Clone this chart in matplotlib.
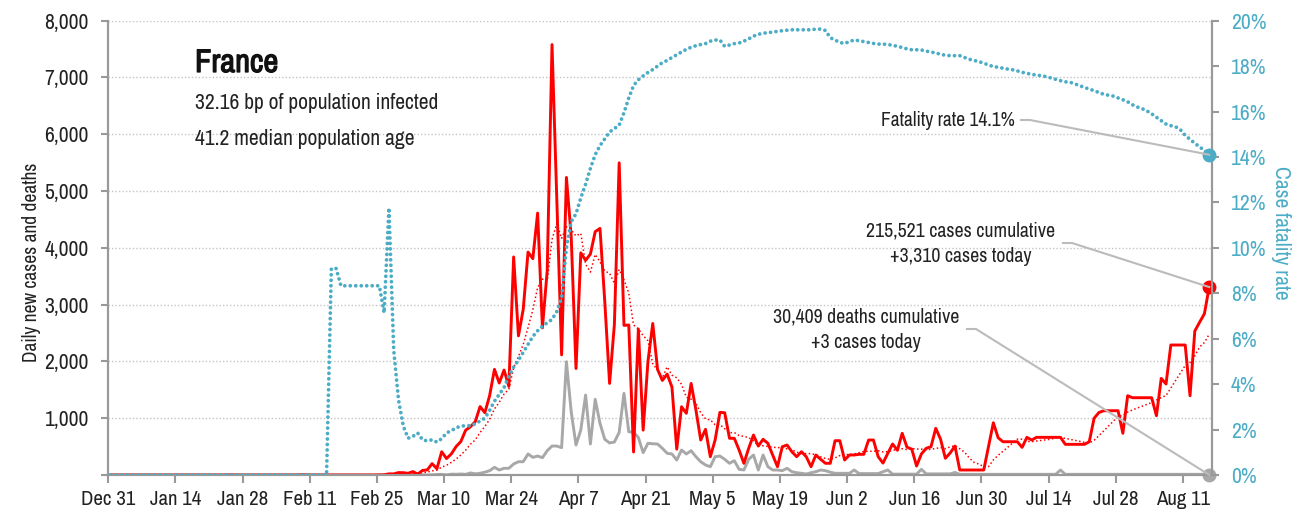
import matplotlib
matplotlib.use('Agg')
import matplotlib.pyplot as plt
import matplotlib.dates as mdates
import matplotlib.patheffects as pe
from matplotlib import font_manager
from matplotlib.lines import Line2D
import numpy as np
import pandas as pd

# pick a narrow sans if one is installed
names = {f.name: f for f in font_manager.fontManager.ttflist}
narrow = [n for n in names if 'Narrow' in n or 'Condensed' in n]
stretch = 'normal'
if narrow:
    family = sorted(narrow)[0]
else:
    family = 'DejaVu Sans'
    f = font_manager.findfont(font_manager.FontProperties(family='DejaVu Sans', stretch='condensed'))
    if 'Condensed' in f:
        stretch = 'condensed'
plt.rcParams['font.family'] = [family, 'DejaVu Sans']
plt.rcParams['font.stretch'] = stretch

# daily values from 2019-12-31 (day 0) to 2020-08-16 (day 229)
start = '2019-12-31'
n_days = 230

cases = [0] * 25 + [3, 0, 0, 0, 1, 1, 0, 1, 0, 0, 0, 0, 0, 0, 0, 5, 0, 0, 0, 0, 0, 1,
         0, 0, 0, 0, 0, 0, 0, 0, 0,
         2, 4, 20, 19, 43, 40, 30, 60, 15, 80, 90, 200, 110, 410, 290, 370, 500, 590, 790, 850, 940,   # 56-76
         1205, 1097, 1400, 1860, 1620, 1848, 1560, 3840, 2450, 2920, 3925, 3810, 4612, 2590, 3600,    # 77-91
         7580, 4860, 2115, 5240, 4200, 1875, 3912, 3780, 3890, 4285, 4342, 3050, 1613, 2650, 5497,    # 92-106
         2635, 2641, 405, 2570, 790, 2000, 2668, 1860, 1665, 1777, 1550, 455, 1202, 1086, 1613,       # 107-121
         1144, 616, 804, 322, 616, 1103, 1096, 646, 646, 440, 206, 470, 704, 510, 628,                 # 122-136
         558, 352, 146, 498, 528, 410, 322, 410, 322, 146, 352, 276, 206, 206, 604,                    # 137-151
         604, 264, 352, 352, 364, 364, 616, 616, 322, 210, 382, 546, 435, 734, 490,                    # 152-166
         455, 158, 370, 470, 498, 822, 630, 294, 388, 510, 88, 88, 88, 88, 88,                         # 167-181
         88, 500, 920, 656, 586, 586, 586, 586, 487, 663, 616, 663, 663, 663, 663,                     # 182-196
         663, 663, 540, 540, 540, 540, 540, 586, 998, 1100, 1132, 1132, 1132, 1132, 734,               # 197-211
         1396, 1361, 1361, 1361, 1361, 1361, 1044, 1702, 1602, 2289, 2289, 2289, 2289, 1396, 2535,     # 212-226
         2690, 2840, 3310]                                                                              # 227-229

deaths = [0] * 46 + [1] + [0] * 9 + [1, 0, 0, 0, 0, 0, 1, 1, 0, 2, 0, 3, 9, 11, 3, 15, 13, 18, 12, 36, 21,  # 46-76
          30, 50, 76, 135, 88, 118, 118, 194, 234, 234, 370, 311, 334, 305, 428,                       # 77-91
          510, 510, 481, 1995, 1114, 528, 792, 1408, 546, 1333, 910, 628, 565, 580, 750,               # 92-106
          1438, 762, 755, 660, 393, 558, 550, 546, 470, 382, 370, 264, 440, 370, 428,                   # 107-121
          322, 234, 176, 146, 322, 334, 276, 206, 252, 100, 88, 276, 352, 88, 352,                      # 122-136
          146, 88, 88, 76, 118, 58, 40, 30, 18, 40, 58, 88, 76, 50, 30,                                 # 137-151
          30, 30, 30, 88, 25, 25, 25, 25, 25, 58, 88, 15, 15, 15, 15,                                   # 152-166
          15, 15, 100, 20, 20, 20, 20, 20, 20, 45] + [12] * 21 + [88] + [12] * 30 + [3]                 # 167-229

cfr = [0] * 46 + [9.09, 9.09] + [8.33] * 9 + [7.14, 11.76, 5.5, 3.3, 2.15, 1.62,                       # 46-62
       1.7, 1.85, 1.55, 1.5, 1.55, 1.45, 1.6, 1.85, 1.95, 2.08, 2.15, 2.17, 2.17, 2.25, 2.38,            # 63-77
       2.5, 2.85, 3.25, 3.55, 3.85, 4.35, 4.75, 5.05, 5.4, 5.75, 6.1, 6.35, 6.55, 6.7, 6.85,             # 78-92
       7.2, 7.8, 10.0, 11.15, 11.5, 12.2, 12.8, 13.5, 14.1, 14.5, 14.8, 15.1, 15.25, 15.4, 15.95,       # 93-107
       16.6, 17.15, 17.4, 17.57, 17.72, 17.85, 18.0, 18.15, 18.25, 18.38, 18.5, 18.62, 18.74, 18.83, 18.9,  # 108-122
       18.95, 18.99, 19.1, 19.15, 19.15, 18.87, 18.93, 18.99, 19.02, 19.1, 19.2, 19.32, 19.4, 19.45, 19.47,  # 123-137
       19.5, 19.53, 19.56, 19.58, 19.6, 19.6, 19.6, 19.6, 19.6, 19.63, 19.63, 19.57, 19.25, 19.15, 19.04,   # 138-152
       19.0, 19.08, 19.15, 19.12, 19.08, 19.04, 19.0, 18.97, 18.97, 18.95, 18.92, 18.87, 18.82, 18.76, 18.72,  # 153-167
       18.72, 18.71, 18.66, 18.62, 18.58, 18.52, 18.48, 18.46, 18.46, 18.46, 18.38, 18.3, 18.25, 18.2, 18.13,  # 168-182
       18.05, 17.98, 17.95, 17.91, 17.87, 17.84, 17.79, 17.73, 17.68, 17.64, 17.6, 17.58, 17.54, 17.48, 17.42,  # 183-197
       17.36, 17.31, 17.29, 17.22, 17.14, 17.06, 16.99, 16.92, 16.84, 16.76, 16.72, 16.68, 16.6, 16.52, 16.43,  # 198-212
       16.3, 16.2, 16.13, 16.03, 15.9, 15.75, 15.6, 15.45, 15.38, 15.33, 15.2, 14.95, 14.78, 14.6, 14.45,  # 213-227
       14.28, 14.1]                                                                                      # 228-229

country = 'France'
infected_bp = 32.16
median_age = 41.2
total_cases = 215521
total_deaths = 30409

dates = pd.date_range(start, periods=n_days) + pd.Timedelta(hours=12)
df = pd.DataFrame({'cases': cases, 'deaths': deaths, 'cfr': cfr}, index=dates)
df['avg'] = df['cases'].rolling(7, min_periods=1).mean()

W, H = 1307, 518
fig = plt.figure(figsize=(W / 100, H / 100), dpi=100)
ax = fig.add_axes([108.3 / W, 43 / H, (1211.6 - 108.3) / W, (475 - 20.7) / H])

red = '#ff0000'
grey = '#a8a8a8'
blue = '#4bacc6'
axis_grey = '#999999'
ink = '#222222'

ax.plot(df.index, df['deaths'], color=grey, lw=2.1, zorder=2)
ax.plot(df.index, df['avg'], color=red, lw=1.1, ls=(0, (1, 1.6)), zorder=3)
ax.plot(df.index, df['cases'], color=red, lw=2.1, zorder=4)
ax.plot(df.index[-1], df['cases'].iloc[-1], 'o', color=red, ms=9, zorder=6, clip_on=False)
ax.plot(df.index[-1], df['deaths'].iloc[-1], 'o', color=grey, ms=9, zorder=6, clip_on=False)

ax.set_xlim(pd.Timestamp(start), pd.Timestamp(start) + pd.Timedelta(days=n_days))
ax.set_ylim(0, 8000)
ax.set_yticks(range(0, 8001, 1000))
ax.set_yticklabels([''] + [f'{v:,}' for v in range(1000, 8001, 1000)])
xt = pd.date_range(start, '2020-08-11', freq='14D')
ax.set_xticks(xt)
ax.set_xticklabels([f'{d:%b} {d.day}' for d in xt])
ax.yaxis.grid(True, color='#c4c4c4', ls=(0, (1, 1.5)), lw=1)
ax.set_axisbelow(True)

ax2 = ax.twinx()
ax2.plot(df.index, df['cfr'], color=blue, lw=2.7, ls=(0, (0.01, 1.45)),
         dash_capstyle='round', zorder=5)
ax2.plot(df.index[-1], df['cfr'].iloc[-1], 'o', color=blue, ms=9, zorder=6, clip_on=False)
ax2.set_ylim(0, 20)
ax2.set_yticks(range(0, 21, 2))
ax2.set_yticklabels([f'{v}%' for v in range(0, 21, 2)])

for a in (ax, ax2):
    a.spines['top'].set_visible(False)
    for s in ('left', 'right', 'bottom'):
        a.spines[s].set_color(axis_grey)
        a.spines[s].set_linewidth(1.5)
ax.tick_params(axis='y', length=5, width=1.5, color=axis_grey, pad=9, labelsize=15.5, labelcolor=ink)
ax.tick_params(axis='x', length=6, width=1.5, color=axis_grey, pad=5, labelsize=15, labelcolor=ink)
ax2.tick_params(axis='y', length=5, width=1.5, color=axis_grey, pad=9, labelsize=15.5, labelcolor=blue)

def fx(x):
    return x / W

def fy(y):
    return 1 - y / H

fig.text(fx(32), fy(262), 'Daily new cases and deaths', rotation=90, ha='center', va='center',
         fontsize=14, color=ink)
fig.text(fx(1281), fy(233), 'Case fatality rate', rotation=270, ha='center', va='center',
         fontsize=15.5, color=blue)

fig.text(fx(195), fy(63), country, fontsize=23.5, fontweight='bold', ha='left', va='center', color='#111111',
         path_effects=[pe.withStroke(linewidth=0.9, foreground='#111111')])
fig.text(fx(195), fy(103), f'{infected_bp} bp of population infected', fontsize=15.5, ha='left',
         va='center', color=ink)
fig.text(fx(195), fy(139), f'{median_age} median population age', fontsize=15.5, ha='left',
         va='center', color=ink)

def to_fig(a, d, v):
    p = a.transData.transform((mdates.date2num(d), v))
    return fig.transFigure.inverted().transform(p)

def connector(x0, y0, a, d, v):
    px, py = to_fig(a, d, v)
    fig.add_artist(Line2D([fx(x0), fx(x0 + 9), px], [fy(y0), fy(y0), py], color='#bbbbbb', lw=1.5,
                          transform=fig.transFigure, zorder=1))

last = df.index[-1]
fig.text(fx(1015), fy(121), f'Fatality rate {df["cfr"].iloc[-1]:.1f}%', fontsize=14, ha='right',
         va='center', color=ink)
connector(1021, 120, ax2, last, df['cfr'].iloc[-1])

fig.text(fx(961), fy(231), f'{total_cases:,} cases cumulative', fontsize=14.3, ha='center', va='center',
         color=ink)
fig.text(fx(961), fy(256), f'+{df["cases"].iloc[-1]:,} cases today', fontsize=14.3, ha='center',
         va='center', color=ink)
connector(1063, 243, ax, last, df['cases'].iloc[-1])

fig.text(fx(866), fy(317), f'{total_deaths:,} deaths cumulative', fontsize=14.3, ha='center', va='center',
         color=ink)
fig.text(fx(866), fy(343), f'+{df["deaths"].iloc[-1]:,} cases today', fontsize=14.3, ha='center',
         va='center', color=ink)
connector(967, 329, ax, last, df['deaths'].iloc[-1])

fig.savefig('out.png', dpi=100)
